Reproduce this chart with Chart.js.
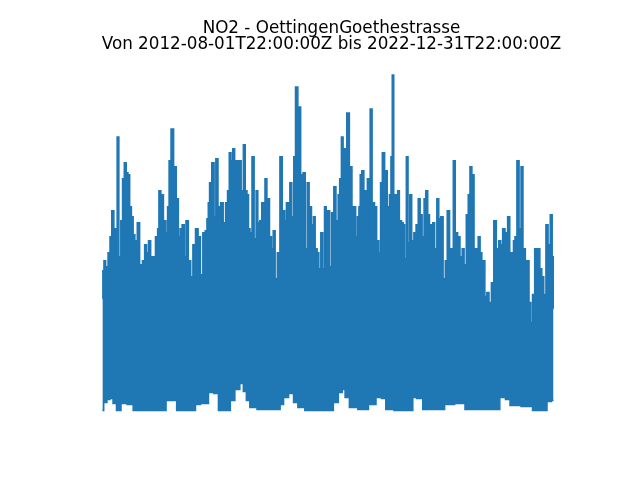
<!DOCTYPE html>
<html>
<head>
<meta charset="utf-8">
<script src="https://cdn.jsdelivr.net/npm/chart.js@4"></script>
<style>
  body { margin: 0; background: #fff; }
  canvas { display: block; }
</style>
</head>
<body>
<canvas id="no2-chart" width="640" height="480"></canvas>
<script>
// title lines
var titleLines = ["NO2 - OettingenGoethestrasse", "Von 2012-08-01T22:00:00Z bis 2022-12-31T22:00:00Z"];

// upper envelope of the hourly series (decimal year, value)
var peakYears = [
  2012.58, 2012.60, 2012.63, 2012.68, 2012.74, 2012.77, 2012.82, 2012.87, 2012.90, 2012.94,
  2012.98, 2013.03, 2013.06, 2013.11, 2013.15, 2013.19, 2013.23, 2013.27, 2013.31, 2013.35,
  2013.42, 2013.46, 2013.48, 2013.53, 2013.58, 2013.62, 2013.67, 2013.72, 2013.77, 2013.84,
  2013.87, 2013.90, 2013.96, 2014.02, 2014.07, 2014.10, 2014.14, 2014.19, 2014.26, 2014.31,
  2014.36, 2014.39, 2014.45, 2014.49, 2014.53, 2014.60, 2014.64, 2014.70, 2014.76, 2014.82,
  2014.87, 2014.93, 2014.98, 2015.01, 2015.04, 2015.07, 2015.14, 2015.18, 2015.22, 2015.28,
  2015.34, 2015.40, 2015.45, 2015.49, 2015.53, 2015.57, 2015.61, 2015.66, 2015.70, 2015.72,
  2015.76, 2015.81, 2015.86, 2015.90, 2015.94, 2015.97, 2016.01, 2016.06, 2016.11, 2016.15,
  2016.19, 2016.24, 2016.28, 2016.32, 2016.35, 2016.41, 2016.47, 2016.50, 2016.55, 2016.59,
  2016.65, 2016.71, 2016.76, 2016.82, 2016.84, 2016.89, 2016.93, 2016.98, 2017.02, 2017.06,
  2017.13, 2017.19, 2017.24, 2017.29, 2017.33, 2017.38, 2017.44, 2017.47, 2017.52, 2017.56,
  2017.60, 2017.65, 2017.69, 2017.73, 2017.77, 2017.79, 2017.81, 2017.85, 2017.90, 2017.95,
  2018.00, 2018.05, 2018.07, 2018.13, 2018.15, 2018.20, 2018.25, 2018.32, 2018.37, 2018.41,
  2018.45, 2018.49, 2018.52, 2018.55, 2018.59, 2018.65, 2018.69, 2018.71, 2018.75, 2018.78,
  2018.84, 2018.89, 2018.94, 2018.99, 2019.02, 2019.07, 2019.13, 2019.19, 2019.23, 2019.26,
  2019.29, 2019.33, 2019.38, 2019.42, 2019.46, 2019.52, 2019.54, 2019.58, 2019.62, 2019.66,
  2019.70, 2019.75, 2019.80, 2019.85, 2019.90, 2019.94, 2019.99, 2020.03, 2020.07, 2020.12,
  2020.15, 2020.19, 2020.23, 2020.28, 2020.33, 2020.37, 2020.42, 2020.48, 2020.52, 2020.57,
  2020.63, 2020.67, 2020.70, 2020.76, 2020.81, 2020.87, 2020.91, 2020.96, 2021.01, 2021.05,
  2021.09, 2021.14, 2021.19, 2021.24, 2021.28, 2021.33, 2021.36, 2021.39, 2021.44, 2021.48,
  2021.54, 2021.59, 2021.65, 2021.71, 2021.76, 2021.80, 2021.85, 2021.91, 2021.97, 2022.01,
  2022.06, 2022.09, 2022.13, 2022.18, 2022.23, 2022.27, 2022.32, 2022.38, 2022.42, 2022.45,
  2022.50, 2022.53, 2022.60, 2022.66, 2022.71, 2022.75, 2022.80, 2022.85, 2022.90, 2022.95,
  2022.99, 2023.00
];
var peakValues = [
   56,  70,  75,  72,  79,  87, 100,  91,  80, 137,
   77,  95, 116, 124, 119, 118, 102,  97,  88,  85,
   94,  72,  73,  75,  83,  79,  85,  77,  77,  87,
   91, 110, 108,  95,  89, 102, 125, 141, 122, 106,
   87,  91,  93,  77,  95,  75,  67,  83,  91,  87,
   68,  89,  90,  96, 104, 114, 124,  97, 126, 102,
  104,  94, 104, 110, 129, 125, 131, 125, 125,  93,
  125, 110, 133, 110, 108,  91,  89, 127,  86, 110,
   94,  95, 104,  87, 116, 106,  87,  81,  90,  66,
   79, 127, 100,  95, 104, 104, 114,  97, 127, 162,
  152, 118, 119,  81, 114, 102,  93,  97,  81,  79,
   71,  89,  71, 102, 100,  97, 100,  72,  99, 112,
   95, 108, 116, 137, 131, 131, 149, 122, 102, 102,
   87,  97, 102, 118, 120, 110,  91, 116, 114, 151,
  104, 102,  85,  79, 114, 129, 120, 102, 108, 127,
  168, 108, 108, 110,  95,  94,  93,  76, 127,  84,
  108,  85,  89,  93, 106,  98,  87, 106, 110,  98,
   79,  93,  94,  81, 106,  96,  97,  66,  75, 100,
   81,  64, 125,  89,  87,  77,  81,  73,  98, 108,
  122, 118,  81,  81,  87,  79,  67,  75,  57,  59,
   54,  64,  95,  81,  85,  83,  91,  89,  97,  79,
   79,  85,  87, 125,  91, 122,  81,  75,  75,  54,
   44,  58,  81,  81,  71,  67,  58,  93,  83,  98,
   77,  51
];

// lower envelope
var troughYears = [
  2012.58, 2012.64, 2012.73, 2012.78, 2012.87, 2012.94, 2013.08, 2013.22, 2013.36, 2013.68,
  2014.03, 2014.07, 2014.26, 2014.33, 2014.72, 2014.74, 2014.95, 2015.11, 2015.20, 2015.32,
  2015.50, 2015.57, 2015.71, 2015.80, 2015.87, 2015.94, 2016.03, 2016.27, 2016.66, 2016.71,
  2016.82, 2016.94, 2017.05, 2017.14, 2017.37, 2017.88, 2017.95, 2018.11, 2018.13, 2018.24,
  2018.33, 2018.63, 2018.82, 2018.98, 2019.07, 2019.18, 2019.45, 2019.73, 2019.77, 2019.91,
  2020.05, 2020.38, 2020.59, 2020.84, 2021.07, 2021.69, 2021.83, 2021.95, 2022.04, 2022.46,
  2022.57, 2022.80, 2022.90, 2023.00
];
var troughValues = [
  0, 4, 5.5, 6, 3.5, 0, 3.5, 3, 0, 0,
  0, 5, 5, 0, 0, 3, 3.5, 9, 8.5, 0,
  0, 5, 10.5, 13.5, 9.5, 5, 1.5, 0.5, 0.5, 3,
  6.5, 8.5, 4, 1.5, 0, 0, 4, 9, 10.5, 6.5,
  1.5, 0.5, 3, 6.5, 6, 0.5, 0, 0, 6.5, 6,
  0.5, 0.5, 3, 3.5, 0.5, 0.5, 6.5, 5.5, 2.5, 2,
  0, 0, 4.5, 5
];

var blue = "#1f77b4";

function toPoints(xs, ys) {
    var pts = [];
    for (var i = 0; i < xs.length; i++) {
        pts.push({ x: xs[i], y: ys[i] });
    }
    return pts;
}

// data extent, matplotlib-like 5% margin on y
var xMin = 2012.582, xMax = 2023.0;
var yMin = 0, yMax = 168.3;
var yPad = (yMax - yMin) * 0.05;
// the area is a bit wider than the axes so the title centre sits right;
// x range is widened to match (about 0.0231 years per pixel)
var yearsPerPx = (xMax - xMin) / 451;

Chart.defaults.font.family = "'DejaVu Sans', sans-serif";

new Chart(document.getElementById("no2-chart"), {
    type: "line",
    data: {
        datasets: [{
            label: "NO2",
            data: toPoints(peakYears, peakValues),
            borderColor: blue,
            backgroundColor: blue,
            borderWidth: 1.5,
            pointRadius: 0,
            stepped: "middle",
            fill: "+1"
        }, {
            label: "NO2 min",
            data: toPoints(troughYears, troughValues),
            borderColor: blue,
            backgroundColor: blue,
            borderWidth: 1.5,
            pointRadius: 0,
            stepped: "middle",
            fill: false
        }]
    },
    options: {
        responsive: false,
        animation: false,
        layout: { padding: { left: 84, right: 61, top: 0, bottom: 52.8 } },
        plugins: {
            legend: { display: false },
            tooltip: { enabled: false },
            title: {
                display: true,
                text: titleLines,
                color: "#000",
                font: { size: 16.75, weight: "normal", lineHeight: 1.0 },
                padding: { top: 20, bottom: 4.1 }
            }
        },
        scales: {
            x: { type: "linear", display: false,
                 min: xMin - 18.5 * yearsPerPx, max: xMax + 25.5 * yearsPerPx },
            y: { display: false, min: yMin - yPad, max: yMax + yPad }
        }
    }
});
</script>
</body>
</html>
